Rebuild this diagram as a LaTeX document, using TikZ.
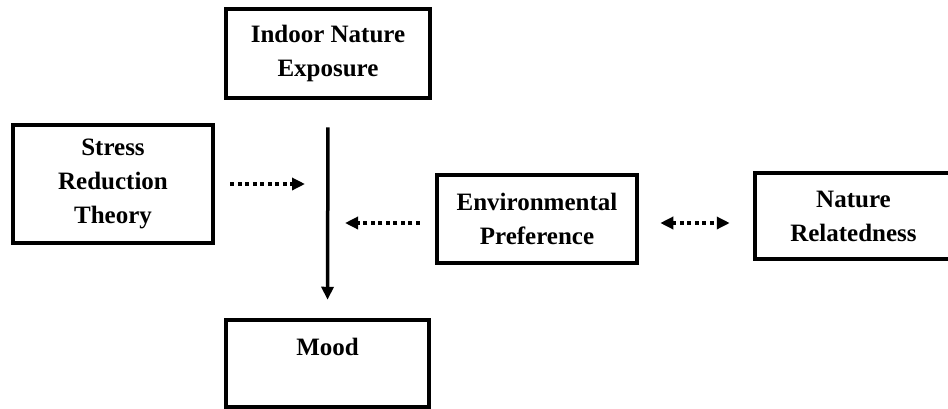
\documentclass[tikz,border=0pt]{standalone}
\usepackage{fontspec}
\setmainfont{Liberation Serif}
\usetikzlibrary{arrows.meta}
\tikzset{
  concept/.style  = {shape=rectangle, draw, line width=4.5pt, align=center,
                     inner sep=0pt,
                     font=\fontsize{25}{34}\selectfont\bfseries},
  link/.style     = {line width=3.5pt, -{Triangle[length=13pt,width=12pt]}},
  dotlink/.style  = {link, line width=4pt, dash pattern=on 4pt off 3.5pt},
  dotboth/.style  = {dotlink, {Triangle[length=13pt,width=12pt]}-{Triangle[length=13pt,width=12pt]}}
}

\begin{document}
\begin{tikzpicture}
  [
    x = 1pt,
    y = -1pt
  ]
  \useasboundingbox (0,0) rectangle (948,408);

  \node [concept, minimum width=204pt, minimum height=89pt] (indoor) at (328,53.5)
        {Indoor Nature\\Exposure};
  \node [concept, minimum width=200pt, minimum height=118pt] (srt) at (113,184)
        {Stress\\Reduction\\Theory};
  \node [concept, minimum width=200pt, minimum height=88pt] (envpref) at (537,219)
        {Environmental\\Preference};
  \node [concept, minimum width=197pt, minimum height=86pt] (natrel) at (853.5,216)
        {Nature\\Relatedness};
  \node [concept, minimum width=203pt, minimum height=87pt] (mood) at (327.5,363.5)
        {Mood\\~};

  % main path and the dotted links
  \draw [link, shorten <=27pt, shorten >=18pt] (indoor.south) -- (mood.north);
  \draw [dotlink, shorten <=15pt, shorten >=23pt] (srt.east) -- (srt.east -| indoor.south);
  \draw [dotlink, shorten <=15pt, shorten >=17pt] ([yshift=-4pt]envpref.west) -- ([yshift=-4pt]envpref.west -| indoor.south);
  \draw [dotboth, shorten <=21pt, shorten >=23pt] ([yshift=-4pt]envpref.east) -- ([yshift=-4pt]envpref.east -| natrel.west);
\end{tikzpicture}
\end{document}
